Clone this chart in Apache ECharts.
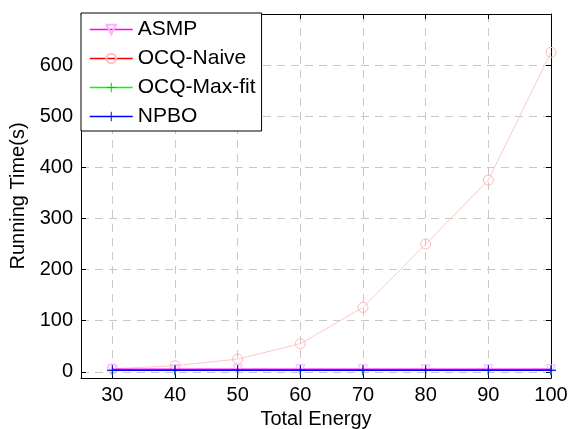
<!DOCTYPE html>
<html>
<head>
<meta charset="utf-8">
<script src="https://cdn.jsdelivr.net/npm/echarts@6/dist/echarts.min.js"></script>
<style>
  html, body { margin: 0; padding: 0; background: #fff; }
  #main { width: 570px; height: 429px; }
</style>
</head>
<body>
<div id="main"></div>
<script>
// data
const energy = [30, 40, 50, 60, 70, 80, 90, 100];
const asmp = [5, 5, 5, 5, 5, 5, 5, 5];
const ocqNaive = [6, 12, 25, 55, 126, 250, 375, 625];
const ocqMaxFit = [3, 3, 3, 3, 3, 3, 3, 3];
const npbo = [3, 3, 3, 3, 3, 3, 3, 3];
const xTicks = [30, 40, 50, 60, 70, 80, 90, 100];
const yTicks = [0, 100, 200, 300, 400, 500, 600];

const chart = echarts.init(document.getElementById('main'));
const font = 'Liberation Sans, Arial, sans-serif';
const plus = 'path://M4.5,0h1v10h-1z M0,4.5h10v1h-10z';

function pairs(ys) {
  return energy.map((x, i) => [x, ys[i]]);
}

function gridLine() {
  return { show: true, lineStyle: { color: '#c8c8c8', type: [8, 6], width: 1 } };
}
function tick(values) {
  return { show: true, inside: true, length: 5, lineStyle: { color: '#000' }, customValues: values };
}
function frame() {
  return { show: true, onZero: false, lineStyle: { color: '#000', width: 1 } };
}

const option = {
  animation: false,
  backgroundColor: '#fff',
  grid: { left: 81, right: 19, top: 14, bottom: 51, outerBoundsMode: 'none', containLabel: false },
  legend: {
    orient: 'vertical',
    left: 81, top: 13,
    padding: [6, 6, 4, 8],
    itemWidth: 43, itemHeight: 12, itemGap: 8,
    backgroundColor: '#fff',
    borderColor: '#000', borderWidth: 1,
    textStyle: { fontFamily: font, fontSize: 21, lineHeight: 20, color: '#000' },
    data: [
      { name: 'ASMP', lineStyle: { color: '#ff00ff', width: 1.5 }, itemStyle: { color: 'none', borderColor: '#ffb0ff' } },
      { name: 'OCQ-Naive', lineStyle: { color: '#ff0000', width: 1.5 }, itemStyle: { color: 'none', borderColor: '#ffc0c0' } },
      { name: 'OCQ-Max-fit', lineStyle: { color: '#00ff00', width: 1.5 }, itemStyle: { color: '#00cc00' } },
      { name: 'NPBO', lineStyle: { color: '#0000ff', width: 1.5 }, itemStyle: { color: '#0000ff' } }
    ]
  },
  xAxis: [{
    type: 'value', min: 25, max: 100,
    name: 'Total Energy', nameLocation: 'middle', nameGap: 30,
    nameTextStyle: { fontFamily: font, fontSize: 20, color: '#000' },
    axisLine: frame(),
    axisTick: tick(xTicks),
    axisLabel: { fontFamily: font, fontSize: 20, color: '#000', margin: 7, customValues: xTicks },
    splitLine: gridLine()
  }, {
    type: 'value', min: 25, max: 100, position: 'top',
    axisLine: frame(),
    axisTick: tick(xTicks),
    axisLabel: { show: false },
    splitLine: { show: false }
  }],
  yAxis: [{
    type: 'value', min: -12, max: 700,
    name: 'Running Time(s)', nameLocation: 'middle', nameGap: 48,
    nameTextStyle: { fontFamily: font, fontSize: 20, color: '#000' },
    axisLine: frame(),
    axisTick: tick(yTicks),
    axisLabel: { fontFamily: font, fontSize: 20, color: '#000', margin: 8, customValues: yTicks },
    splitLine: gridLine()
  }, {
    type: 'value', min: -12, max: 700, position: 'right',
    axisLine: frame(),
    axisTick: tick(yTicks),
    axisLabel: { show: false },
    splitLine: { show: false }
  }],
  series: [{
    name: 'ASMP', type: 'line', data: pairs(asmp),
    symbol: 'triangle', symbolRotate: 180, symbolSize: 9,
    lineStyle: { color: '#ff00ff', width: 1.5 },
    itemStyle: { color: 'none', borderColor: '#ffb0ff', borderWidth: 1 },
    z: 3
  }, {
    name: 'OCQ-Naive', type: 'line', data: pairs(ocqNaive),
    symbol: 'circle', symbolSize: 10,
    lineStyle: { color: '#ffc8c8', width: 1 },
    itemStyle: { color: 'none', borderColor: '#ffb8b8', borderWidth: 1 },
    z: 2
  }, {
    name: 'OCQ-Max-fit', type: 'line', data: pairs(ocqMaxFit),
    symbol: plus, symbolSize: 10,
    lineStyle: { color: '#00ff00', width: 1.5 },
    itemStyle: { color: '#00cc00' },
    z: 4
  }, {
    name: 'NPBO', type: 'line', data: pairs(npbo),
    symbol: plus, symbolSize: 10,
    lineStyle: { color: '#0000ff', width: 1.5 },
    itemStyle: { color: '#0000ff' },
    z: 5
  }]
};

chart.setOption(option);
</script>
</body>
</html>
